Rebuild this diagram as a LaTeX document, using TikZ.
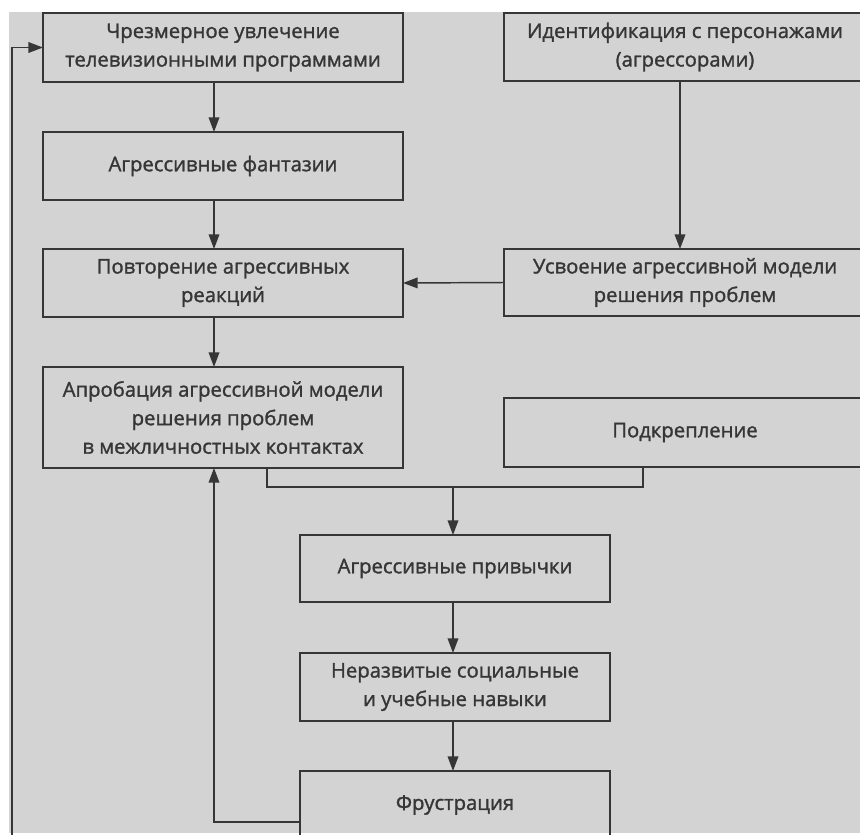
\documentclass[tikz,border=0pt]{standalone}
\usepackage{fontspec}
\setmainfont{Open Sans}[BoldFont=Open Sans, BoldFeatures={FakeBold=1.4}]
\usetikzlibrary{arrows.meta}
\definecolor{scan}{HTML}{D3D3D3}
\definecolor{ink}{HTML}{363636}
\begin{document}
\begin{tikzpicture}[x=0.75pt,y=-0.75pt,
  blok/.style={draw=ink, line width=1.5pt, text=ink, align=center, inner sep=2pt, outer sep=0pt,
    font=\fontsize{15.2}{21.4}\selectfont\bfseries},
  wide/.style={blok, minimum width=270pt, minimum height=51pt},
  mid/.style={blok, minimum width=232.5pt, minimum height=51pt},
  pil/.style={draw=ink, line width=1.1pt, -{Triangle[length=11pt,width=8pt]}},
  lin/.style={draw=ink, line width=1.1pt}]
\clip (0,0) rectangle (860,835);
\fill[white] (0,0) rectangle (860,835);
\fill[scan] (9,12) rectangle (860,833);

% left column
\node[wide, minimum height=51.75pt] (tv) at (223,47.5) {Чрезмерное увлечение\\телевизионными программами};
\node[wide] (fant) at (223,166) {Агрессивные фантазии};
\node[wide] (rep) at (223,283) {Повторение агрессивных\\реакций};
\node[wide, minimum height=75.75pt] (apr) at (223,417.5) {Апробация агрессивной модели\\решения проблем\\в межличностных контактах};

% right column
\node[wide, minimum width=271.5pt] (ident) at (685,47) {Идентификация с персонажами\\(агрессорами)};
\node[wide, minimum width=271.5pt, minimum height=50.25pt] (usv) at (685,282.5) {Усвоение агрессивной модели\\решения проблем};
\node[wide, minimum width=271.5pt, minimum height=51.75pt] (podk) at (685,432.5) {Подкрепление};

% middle column
\node[mid, minimum height=50.25pt] (habit) at (455,568.5) {Агрессивные привычки};
\node[mid] (skill) at (455,687) {Неразвитые социальные\\и учебные навыки};
\node[mid] (frust) at (455,805) {Фрустрация};

\coordinate (colL) at (214,0);
\coordinate (colR) at (680,0);
\coordinate (colM) at (453,0);
\coordinate (ka) at (267,0);
\coordinate (kp) at (643,0);
\coordinate (jn) at (453,487);
\coordinate (outer) at (12,0);

\draw[pil] (tv.south -| colL) -- (fant.north -| colL);
\draw[pil] (fant.south -| colL) -- (rep.north -| colL);
\draw[pil] (rep.south -| colL) -- (apr.north -| colL);
\draw[pil] (ident.south -| colR) -- (usv.north -| colR);
\draw[pil] (usv.west) -- (rep.east);

\draw[lin] (apr.south -| ka) -- (ka |- jn) -| (podk.south -| kp);
\draw[pil] (jn) -- (habit.north -| colM);
\draw[pil] (habit.south -| colM) -- (skill.north -| colM);
\draw[pil] (skill.south -| colM) -- (frust.north -| colM);

% feedback loops
\draw[pil] ([yshift=-12.75pt]frust.west) -| (apr.south -| colL);
\draw[pil] ([yshift=-38.25pt]frust.west) -| (outer |- tv.west) -- (tv.west);
\end{tikzpicture}
\end{document}
